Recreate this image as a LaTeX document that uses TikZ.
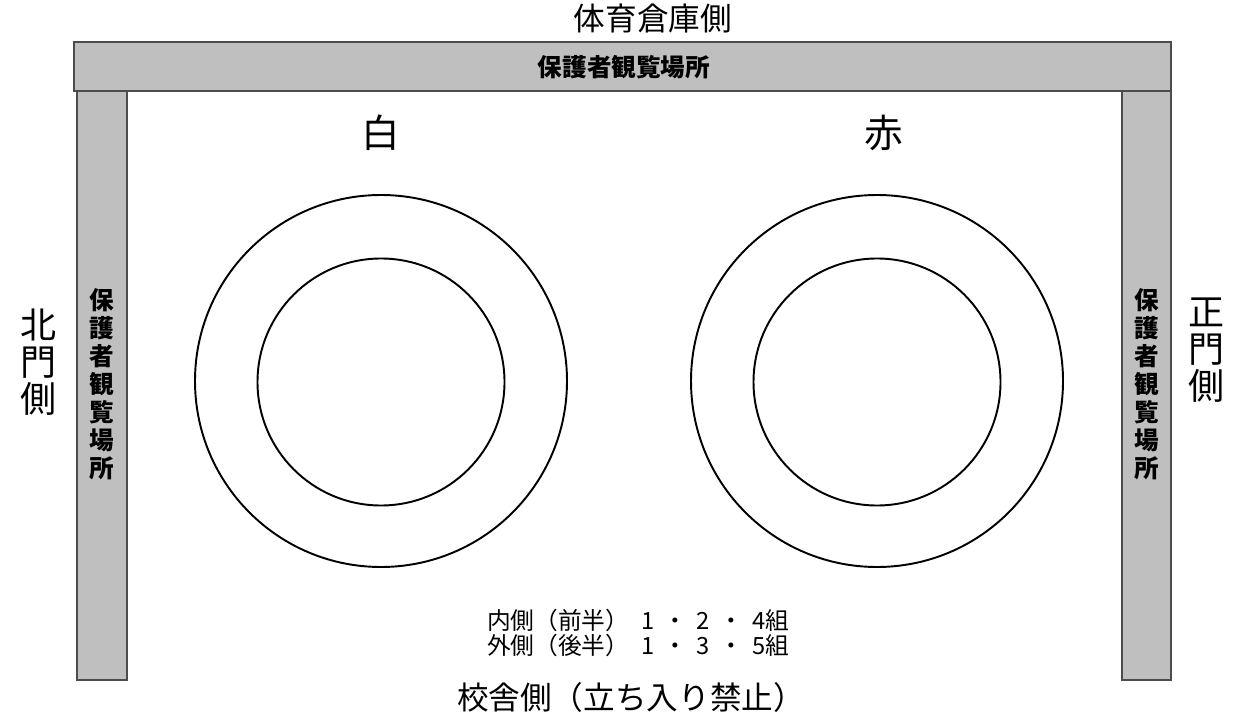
\documentclass[tikz,border=0pt]{standalone}
\usepackage{fontspec}
\setmainfont{Noto Sans CJK JP}
\usepackage{tikz}
\definecolor{barfill}{RGB}{191,191,191}
\newcommand{\dotsep}{\hspace{0.39em}・\hspace{0.39em}}

\begin{document}
\begin{tikzpicture}[x=0.02cm, y=-0.02cm, bar/.style={fill=barfill, draw=black!70, line width=0.8pt}, ring/.style={draw=black, line width=1.1pt}, side/.style={align=center, font=\fontsize{18}{19}\selectfont}, gate/.style={align=center, font=\fontsize{20.5}{21}\selectfont}, barlabel/.style={align=center, font=\bfseries\fontsize{14}{15.9}\selectfont}]
\useasboundingbox (0,0) rectangle (1253,722);
\draw[bar] (74,42) rectangle (1171,91);
\draw[bar] (77,91) rectangle (127,680);
\draw[bar] (1122,91) rectangle (1171,680);
\draw[ring] (381,381) circle (186);
\draw[ring] (381,382) circle (123.5);
\draw[ring] (877,381) circle (186);
\draw[ring] (877,382) circle (123.5);
\node[barlabel] (topbar) at (624,67) {保護者観覧場所};
\node[barlabel] (leftbar) at (102,384) {保\\護\\者\\観\\覧\\場\\所};
\node[barlabel] (rightbar) at (1147,384) {保\\護\\者\\観\\覧\\場\\所};
\node[side] (north) at (653,18) {体育倉庫側};
\node[gate] (west) at (39,362) {北\\門\\側};
\node[gate] (east) at (1206,350) {正\\門\\側};
\node[side] (south) at (631,697) {校舎側（立ち入り禁止）};
\node[font=\fontsize{22}{24}\selectfont] (white) at (381,133) {白};
\node[font=\fontsize{22}{24}\selectfont] (red) at (884,133) {赤};
\node[align=center, font=\fontsize{13.5}{14}\selectfont] (groups) at (638,633) {内側（前半）\hspace{0.5em}1\dotsep 2\dotsep 4組\\外側（後半）\hspace{0.5em}1\dotsep 3\dotsep 5組};
\end{tikzpicture}
\end{document}
